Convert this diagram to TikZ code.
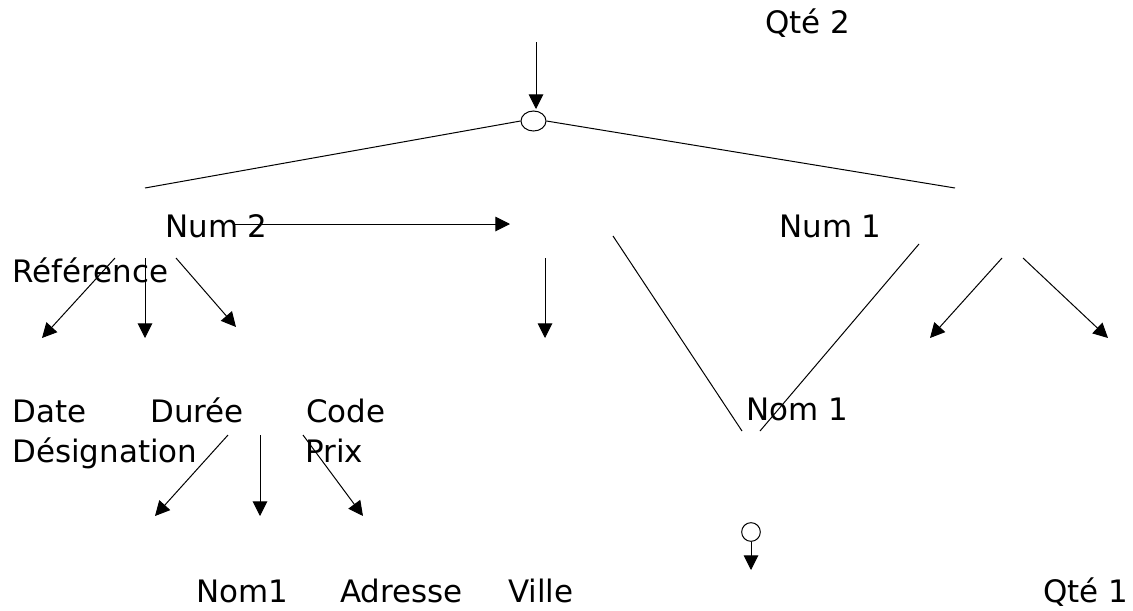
\documentclass[tikz,border=0pt]{standalone}
\usepackage{fontspec}
\setmainfont{DejaVu Sans}
\usetikzlibrary{arrows.meta,shapes.geometric}
\begin{document}
\begin{tikzpicture}[x=0.75pt,y=-0.75pt,
  lbl/.style={anchor=base west,inner sep=0pt,font=\fontsize{23.2}{27}\selectfont},
  link/.style={line width=0.75pt},
  arr/.style={line width=0.75pt,-{Triangle[length=11pt,width=11pt]}},
  ring/.style={draw,line width=0.75pt,inner sep=0pt}]
\useasboundingbox (0,0) rectangle (1133,611);

% labels
\node[lbl] (qte2) at (765,33) {Qté 2};
\node[lbl] (num2) at (165,237) {Num 2};
\node[lbl] (num1) at (779,237) {Num 1};
\node[lbl] (ref) at (12,282) {Référence};
\node[lbl] (date) at (12,422) {Date};
\node[lbl] (duree) at (150,422) {Durée};
\node[lbl] (code) at (306,422) {Code};
\node[lbl] (nom1b) at (746,420) {Nom 1};
\node[lbl] (desig) at (12,462) {Désignation};
\node[lbl] (prix) at (305,462) {Prix};
\node[lbl] (nom1) at (196,602) {Nom1};
\node[lbl] (adr) at (340,602) {Adresse};
\node[lbl] (ville) at (508,602) {Ville};
\node[lbl] (qte1) at (1043,602) {Qté 1};

% junction symbols
\node[ring,ellipse,minimum width=18.75pt,minimum height=15pt] (join) at (533.5,121) {};
\node[ring,circle,minimum size=14pt] (dot) at (751,532) {};

% free ends of the connectors
\coordinate (top) at (536,42);
\coordinate (joinin) at (536,109);
\coordinate (lend) at (145,188);
\coordinate (rend) at (955,188);
\coordinate (hs) at (233,224);
\coordinate (he) at (510,224);
\coordinate (a1s) at (115,258);  \coordinate (a1e) at (42,338);
\coordinate (a2s) at (145,258);  \coordinate (a2e) at (145,338);
\coordinate (a3s) at (176,258);  \coordinate (a3e) at (236,327);
\coordinate (ms) at (545,258);   \coordinate (me) at (545,338);
\coordinate (b1s) at (228,435);  \coordinate (b1e) at (155,516);
\coordinate (b2s) at (260,435);  \coordinate (b2e) at (260,516);
\coordinate (b3s) at (303,435);  \coordinate (b3e) at (363,516);
\coordinate (vls) at (613,236);  \coordinate (vle) at (742,431);
\coordinate (vrs) at (919,244);  \coordinate (vre) at (760,431);
\coordinate (c1s) at (1002,258); \coordinate (c1e) at (930,338);
\coordinate (c2s) at (1023,258); \coordinate (c2e) at (1108,338);
\coordinate (dend) at (751,570);

% connectors
\draw[arr] (top) -- (joinin);
\draw[link] (join.west) -- (lend);
\draw[link] (join.east) -- (rend);
\draw[arr] (hs) -- (he);
\draw[arr] (a1s) -- (a1e);
\draw[arr] (a2s) -- (a2e);
\draw[arr] (a3s) -- (a3e);
\draw[arr] (ms) -- (me);
\draw[arr] (b1s) -- (b1e);
\draw[arr] (b2s) -- (b2e);
\draw[arr] (b3s) -- (b3e);
\draw[link] (vls) -- (vle);
\draw[link] (vrs) -- (vre);
\draw[arr] (c1s) -- (c1e);
\draw[arr] (c2s) -- (c2e);
\draw[arr] (dot.south) -- (dend);
\end{tikzpicture}
\end{document}
